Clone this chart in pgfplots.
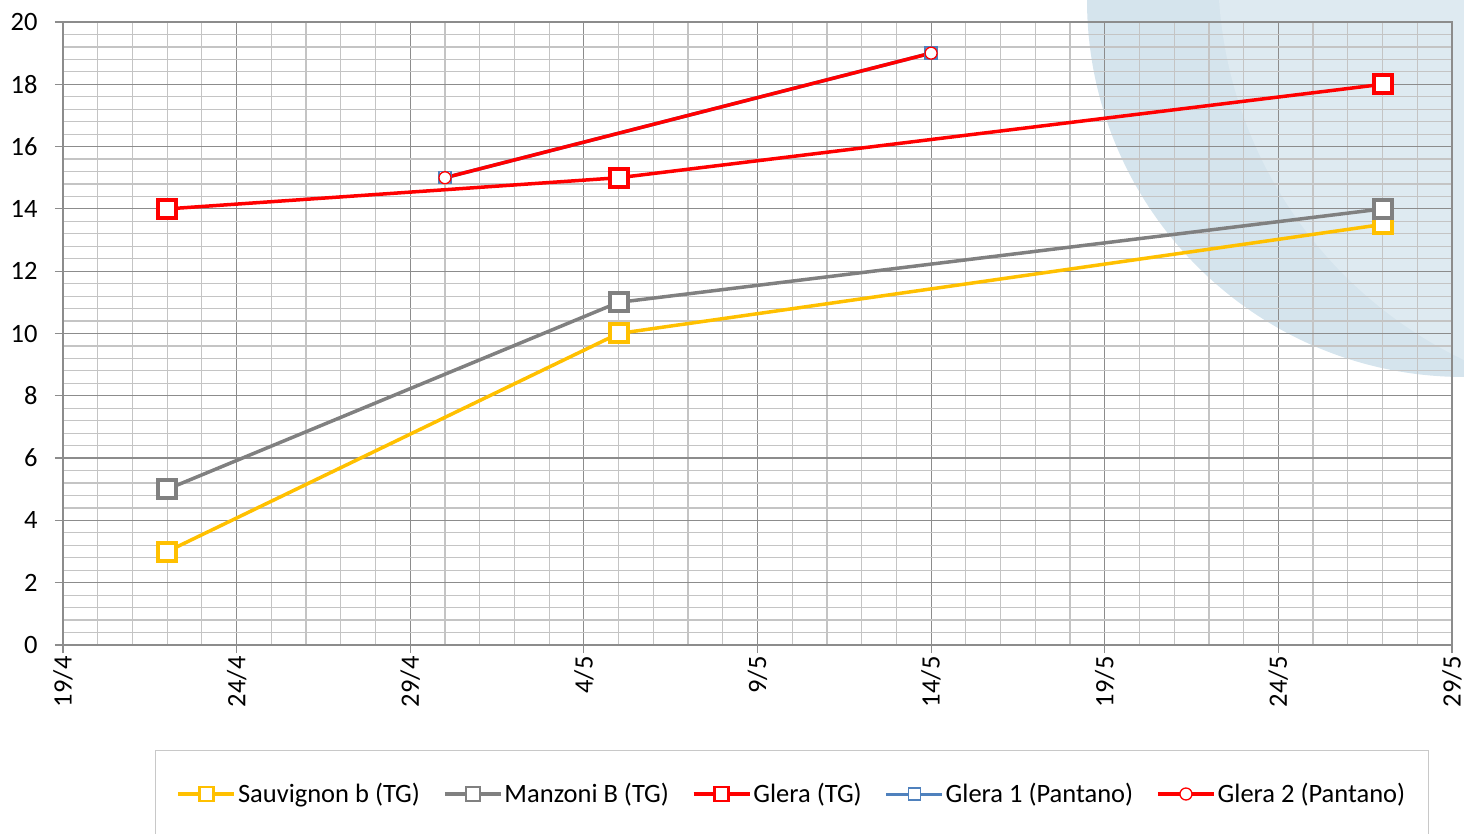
\documentclass[border=0pt]{standalone}
\usepackage{fontspec}
\setmainfont{Carlito}
\usepackage{pgfplots}
\pgfplotsset{compat=1.18}
\definecolor{cyellow}{HTML}{FFC000}
\definecolor{cgray}{HTML}{808080}
\definecolor{cred}{HTML}{FF0000}
\definecolor{cblue}{HTML}{4F81BD}
\definecolor{majgrid}{HTML}{8C8C8C}
\definecolor{mingrid}{HTML}{C4C4C4}
\definecolor{bgA}{HTML}{D5E4ED}
\definecolor{bgB}{HTML}{DEEAF1}
\definecolor{legborder}{HTML}{C8C8C8}
\newcommand\chartfont{\fontsize{26.5bp}{31bp}\selectfont}
\begin{document}
\begin{tikzpicture}
\useasboundingbox (0,0) rectangle (1464bp,834bp);
\fill[bgA] (1464bp,834bp) circle (377bp);
\begin{scope}
\clip (1464bp,834bp) circle (377bp);
\fill[bgB] (1650bp,864bp) circle (432bp);
\end{scope}
\begin{axis}[
  at={(63bp,189bp)}, anchor=south west,
  width=1389bp, height=623bp, scale only axis,
  xmin=0, xmax=40, ymin=0, ymax=20,
  xtick={0,5,...,40},
  xticklabels={19/4,24/4,29/4,4/5,9/5,14/5,19/5,24/5,29/5},
  ytick={0,2,...,20},
  minor x tick num=4, minor y tick num=4,
  grid=both,
  major grid style={draw=majgrid, line width=1.2bp},
  minor grid style={draw=mingrid, line width=1.2bp},
  axis line style={draw=majgrid, line width=1.2bp},
  tick pos=left, tick align=outside,
  major tick length=8bp, minor tick length=0bp,
  every tick/.style={draw=majgrid, line width=1.2bp},
  ticklabel style={font=\chartfont},
  /pgf/number format/assume math mode=true,
  x tick label style={rotate=90, anchor=east},
  y tick label style={xshift=-14bp},
  clip=false,
  legend columns=5,
  legend style={at={(0.0662,-0.1685)}, anchor=north west,
    draw=legborder, line width=1.2bp, font=\chartfont,
    inner xsep=21bp, inner ysep=31bp,
    /tikz/every even column/.append style={column sep=21bp}},
  legend cell align=left,
  legend image code/.code={\draw[mark repeat=2,mark phase=2,#1] plot coordinates {(0bp,0bp) (28bp,0bp) (56bp,0bp)};},
]
\addplot[forget plot, color=cyellow, line width=3.5bp, mark=square*, mark size=9bp,
  mark options={fill=white, line width=4bp}] coordinates {(3,3) (16,10) (38,13.5)};
\addplot[forget plot, color=cgray, line width=3.5bp, mark=square*, mark size=9bp,
  mark options={fill=white, line width=4bp}] coordinates {(3,5) (16,11) (38,14)};
\addplot[forget plot, color=cred, line width=3.5bp, mark=square*, mark size=9bp,
  mark options={fill=white, line width=4bp}] coordinates {(3,14) (16,15) (38,18)};
\addplot[forget plot, color=cblue, line width=3.5bp, mark=square*, mark size=6bp,
  mark options={fill=white, line width=1.3bp}] coordinates {(11,15) (25,19)};
\addplot[forget plot, color=cred, line width=3.5bp, mark=*, mark size=6bp,
  mark options={fill=white, line width=1.3bp}] coordinates {(11,15) (25,19)};
\addlegendimage{color=cyellow, line width=3.5bp, mark=square*, mark size=7bp, mark options={fill=white, line width=2.5bp}}
\addlegendentry{Sauvignon b (TG)}
\addlegendimage{color=cgray, line width=3.5bp, mark=square*, mark size=7bp, mark options={fill=white, line width=2.5bp}}
\addlegendentry{Manzoni B (TG)}
\addlegendimage{color=cred, line width=3.5bp, mark=square*, mark size=7bp, mark options={fill=white, line width=2.5bp}}
\addlegendentry{Glera (TG)}
\addlegendimage{color=cblue, line width=3bp, mark=square*, mark size=6bp, mark options={fill=white, line width=1.3bp}}
\addlegendentry{Glera 1 (Pantano)}
\addlegendimage{color=cred, line width=3.5bp, mark=*, mark size=6bp, mark options={fill=white, line width=1.3bp}}
\addlegendentry{Glera 2 (Pantano)}
\end{axis}
\end{tikzpicture}
\end{document}
